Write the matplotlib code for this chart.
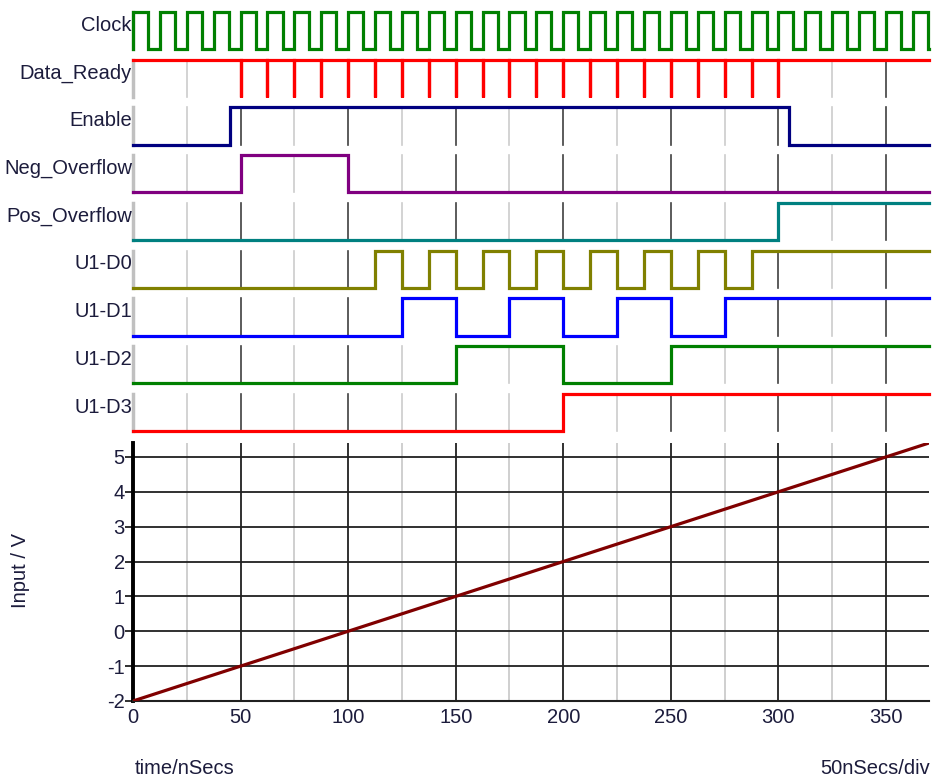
##Timing diagram of a 4 bit ADC (digital traces + analog input ramp)

import matplotlib.pyplot as plt
import numpy as np

plt.rcParams['font.family'] = ['Liberation Sans', 'DejaVu Sans']
plt.rcParams['axes.unicode_minus'] = False

##signal names, top to bottom
names = ['Clock', 'Data_Ready', 'Enable', 'Neg_Overflow', 'Pos_Overflow',
         'U1-D0', 'U1-D1', 'U1-D2', 'U1-D3']
colors = ['#008000', '#ff0000', '#000080', '#800080', '#008080',
          '#808000', '#0000ff', '#008000', '#ff0000']

t_end = 370

##clock rising edges (ns) and how long it stays high
clock_rise = [0, 12.5, 25, 37.5, 50, 62.5, 75, 87.5, 100, 112.5, 125, 137.5,
              150, 162.5, 175, 187.5, 200, 212.5, 225, 237.5, 250, 262.5,
              275, 287.5, 300, 312.5, 325, 337.5, 350, 362.5]
clock_high = 7.0

##Data_Ready sits high and drops for an instant at each conversion
ready_pulses = [50, 62.5, 75, 87.5, 100, 112.5, 125, 137.5, 150, 162.5, 175,
                187.5, 200, 212.5, 225, 237.5, 250, 262.5, 275, 287.5, 300]

##toggle times (ns), every signal but Data_Ready starts low
enable_edges = [45, 305]
neg_edges = [50, 100]
pos_edges = [300]
d0_edges = [112.5, 125, 137.5, 150, 162.5, 175, 187.5, 200, 212.5, 225,
            237.5, 250, 262.5, 275, 287.5]
d1_edges = [125, 150, 175, 200, 225, 250, 275]
d2_edges = [150, 200, 250]
d3_edges = [200]

##analog input ramp
ramp_t = [0, 370]
ramp_v = [-2, 5.4]


def wave(edges, start):
    xs = [0]
    ys = [start]
    lvl = start
    for e in edges:
        xs += [e, e]
        ys += [lvl, 1 - lvl]
        lvl = 1 - lvl
    xs.append(t_end)
    ys.append(lvl)
    return np.array(xs), np.array(ys)


clock_edges = []
for r in clock_rise:
    clock_edges += [r, r + clock_high]
ready_edges = []
for p in ready_pulses:
    ready_edges += [p, p]

waves = [wave(clock_edges, 0), wave(ready_edges, 1), wave(enable_edges, 0),
         wave(neg_edges, 0), wave(pos_edges, 0), wave(d0_edges, 0),
         wave(d1_edges, 0), wave(d2_edges, 0), wave(d3_edges, 0)]

txt = '#1c1c3c'
fs = 14.5
amp = 0.78

fig = plt.figure(figsize=(9.33, 7.81), dpi=100)
ax_d = fig.add_axes([133 / 933, 1 - 436 / 781, 796 / 933, 436 / 781])
ax_a = fig.add_axes([133 / 933, 1 - 701 / 781, 796 / 933, 258 / 781])

##digital traces
ax_d.set_xlim(0, t_end)
ax_d.set_ylim(-0.105, 9.03)
ax_d.axis('off')

for k in range(len(names)):
    low = len(names) - 1 - k
    ax_d.plot([0, 0], [low, low + amp], color='#c0c0c0', lw=2.5,
              clip_on=False, zorder=1)
    for g in range(25, 351, 25):
        c = '#404040' if g % 50 == 0 else '#cccccc'
        ax_d.plot([g, g], [low, low + amp], color=c, lw=1.2, zorder=1)
    xs, ys = waves[k]
    ax_d.plot(xs, low + ys * amp, color=colors[k], lw=2.3,
              solid_joinstyle='miter', clip_on=False, zorder=3)
    ax_d.text(-0.5, low + 0.5, names[k], ha='right', va='center',
              fontsize=fs, color=txt)

##analog input
ax_a.plot(ramp_t, ramp_v, color='#800000', lw=2.3, zorder=3)
ax_a.set_xlim(0, t_end)
ax_a.set_ylim(-2, 5.4)
ax_a.set_yticks(range(-2, 6))
ax_a.set_xticks(range(0, 351, 50))
ax_a.set_xticks(range(25, 351, 50), minor=True)
ax_a.grid(which='major', color='#202020', lw=1.3)
ax_a.grid(which='minor', axis='x', color='#cccccc', lw=1.3)
ax_a.tick_params(axis='y', length=6, width=1.3, color='#202020', pad=0,
                 labelsize=fs, labelcolor=txt)
ax_a.tick_params(axis='x', which='both', length=0, pad=5, labelsize=fs,
                 labelcolor=txt)
ax_a.spines['top'].set_visible(False)
ax_a.spines['right'].set_visible(False)
ax_a.spines['left'].set_linewidth(2.8)
ax_a.spines['left'].set_color('black')
ax_a.spines['bottom'].set_linewidth(1.5)
ax_a.spines['bottom'].set_color('#202020')

fig.text(20 / 933, 1 - 570 / 781, 'Input / V', rotation=90, ha='center',
         va='center', fontsize=fs, color=txt)
fig.text(135 / 933, 1 - 768 / 781, 'time/nSecs', ha='left', va='center',
         fontsize=fs, color=txt)
fig.text(930 / 933, 1 - 768 / 781, '50nSecs/div', ha='right', va='center',
         fontsize=fs, color=txt)

fig.savefig('out.png', dpi=100)
